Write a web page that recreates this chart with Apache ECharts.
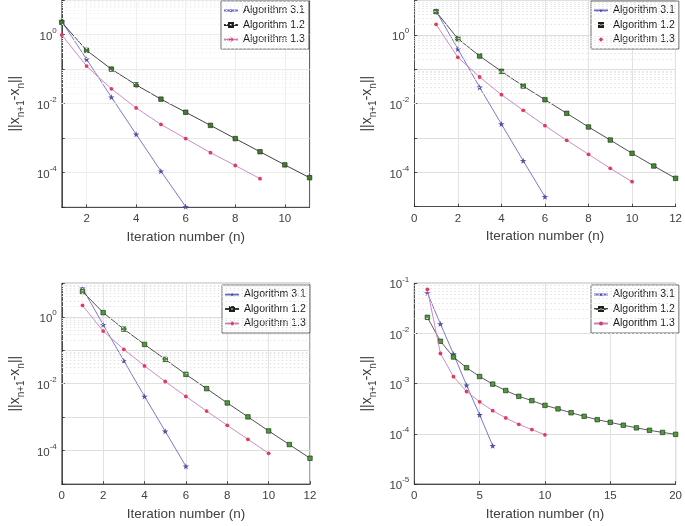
<!DOCTYPE html>
<html><head><meta charset="utf-8">
<script src="https://cdn.jsdelivr.net/npm/echarts@6/dist/echarts.min.js"></script>
<style>body{margin:0;background:#fff;width:685px;height:526px;overflow:hidden}.p{position:absolute}</style>
</head><body>
<div id="c1" class="p" style="left:0;top:0;width:345px;height:260px"></div>
<div id="c2" class="p" style="left:345px;top:0;width:340px;height:260px"></div>
<div id="c3" class="p" style="left:0;top:260px;width:345px;height:266px"></div>
<div id="c4" class="p" style="left:345px;top:260px;width:340px;height:266px"></div>
<script>
// ---- data ----
const seriesNames = ['Algorithm 3.1', 'Algorithm 1.2', 'Algorithm 1.3'];
const xLabel = 'Iteration number (n)';

const p1_alg31 = [2.4, 0.193, 0.01545, 1.3e-3, 1.11e-4, 1.04e-5];
const p1_alg12 = [2.25, 0.349, 0.1, 0.0349, 0.0135, 5.64e-3, 2.35e-3, 9.75e-4, 4.06e-4, 1.69e-4, 7.2e-5];
const p1_alg13 = [0.975, 0.122, 0.0268, 7.5e-3, 2.51e-3, 9.75e-4, 3.8e-4, 1.62e-4, 6.74e-5];

const p2_alg31 = [5.0, 0.392, 0.030, 2.56e-3, 2.18e-4, 1.95e-5];
const p2_alg12 = [4.78, 0.782, 0.245, 0.0878, 0.0327, 0.0131, 5.25e-3, 2.1e-3, 8.75e-4, 3.59e-4, 1.53e-4, 6.7e-5];
const p2_alg13 = [2.05, 0.225, 0.0599, 0.0183, 6.42e-3, 2.29e-3, 8.59e-4, 3.36e-4, 1.31e-4, 5.34e-5];

const p3_alg31 = [7.13, 0.581, 0.0486, 4.17e-3, 3.8e-4, 3.4e-5];
const p3_alg12 = [5.68, 1.33, 0.427, 0.149, 0.0533, 0.019, 7.13e-3, 2.66e-3, 1.02e-3, 3.88e-4, 1.52e-4, 5.93e-5];
const p3_alg13 = [2.18, 0.373, 0.106, 0.034, 0.01164, 4.17e-3, 1.52e-3, 5.69e-4, 2.18e-4, 8.3e-5];

const p4_alg31 = [0.064, 0.0155, 3.9e-3, 9.3e-4, 2.4e-4, 5.8e-5];
const p4_alg12 = [0.021, 7.0e-3, 3.4e-3, 2.08e-3, 1.39e-3, 9.8e-4, 7.3e-4, 5.6e-4, 4.6e-4, 3.7e-4, 3.15e-4, 2.64e-4, 2.24e-4, 1.92e-4, 1.7e-4, 1.49e-4, 1.32e-4, 1.18e-4, 1.07e-4, 9.8e-5];
const p4_alg13 = [0.076, 4.0e-3, 1.38e-3, 7.0e-4, 4.35e-4, 2.9e-4, 2.08e-4, 1.55e-4, 1.22e-4, 9.6e-5];

const xTicks1 = [2, 4, 6, 8, 10];
const xTicks2 = [0, 2, 4, 6, 8, 10, 12];
const xTicks4 = [0, 5, 10, 15, 20];
const yLabels123 = [1e-4, 1e-2, 1];
const yLabels4 = [1e-5, 1e-4, 1e-3, 1e-2, 1e-1];

// ---- styles ----
const FONT = '"Liberation Sans", Arial, Helvetica, sans-serif';
const AX = '#262626';
const TXT = '#404040';
const STAR = 'path://M50,0 L61,35 L98,35 L68,57 L79,91 L50,70 L21,91 L32,57 L2,35 L39,35 Z';

function decades(lo, hi) {
  const out = [];
  for (let k = Math.round(Math.log10(lo)); k <= Math.round(Math.log10(hi)); k++) out.push(Math.pow(10, k));
  return out;
}
function minors(lo, hi) {
  const out = [];
  for (let k = Math.round(Math.log10(lo)); k < Math.round(Math.log10(hi)); k++)
    for (let m = 2; m <= 9; m++) out.push({ yAxis: m * Math.pow(10, k) });
  return out;
}

function build(id, cfg) {
  const chart = echarts.init(document.getElementById(id));
  const styles = [
    { symbol: STAR, size: 6.5, line: '#6b6bc6', fill: '#5050a8', border: '#5050a8', bw: 0 },
    { symbol: 'rect', size: 4.5, line: cfg.blackLine, fill: cfg.green, border: '#1e1e1e', bw: 0.6 },
    { symbol: 'circle', size: 3.8, line: '#c77fc7', fill: '#e23a5c', border: '#e23a5c', bw: 0 }
  ];
  const data = [cfg.a31, cfg.a12, cfg.a13];
  const series = [{
    type: 'line', data: [], silent: true, animation: false,
    markLine: {
      silent: true, symbol: 'none', animation: false, label: { show: false },
      lineStyle: { type: [1.5, 2.5], color: cfg.minorColor, width: 1 },
      data: minors(cfg.ymin, cfg.ymax)
    }
  }];
  data.forEach((vals, i) => {
    const s = styles[i];
    series.push({
      type: 'line', name: seriesNames[i], animation: false, clip: false,
      data: vals.map((v, j) => [j + 1, v]),
      symbol: s.symbol, symbolSize: s.size, symbolKeepAspect: true, showSymbol: true,
      lineStyle: { color: s.line, width: 0.9 },
      itemStyle: { color: s.fill, borderColor: s.border, borderWidth: s.bw },
      z: 3 + i
    });
  });
  const legendData = seriesNames.map((n, i) => {
    const o = { name: n };
    if (cfg.markerOnlyLegend && i > 0) o.lineStyle = { opacity: 0, width: 0, color: 'rgba(0,0,0,0)' };
    return o;
  });
  chart.setOption({
    animation: false,
    grid: {
      left: cfg.grid[0], top: cfg.grid[1], width: cfg.grid[2], height: cfg.grid[3],
      show: cfg.box, borderColor: AX, borderWidth: 0.8, containLabel: false
    },
    legend: {
      data: legendData, orient: 'vertical', left: cfg.legend[0], top: cfg.legend[1],
      itemWidth: 14, itemHeight: 5, itemGap: 3.5, padding: [4, 4, 4, 2],
      borderColor: '#303030', borderWidth: 0.7, backgroundColor: '#fff', borderRadius: 0,
      selectedMode: false,
      textStyle: { fontFamily: FONT, fontSize: 10.5, color: '#1a1a1a', lineHeight: 11 }
    },
    xAxis: {
      type: 'value', min: cfg.xmin, max: cfg.xmax,
      axisLine: { show: true, onZero: false, lineStyle: { color: AX, width: 0.8 } },
      axisTick: { show: true, inside: true, length: 3, customValues: cfg.xticks, lineStyle: { color: AX, width: 0.8 } },
      axisLabel: { customValues: cfg.xticks, margin: 6, fontFamily: FONT, fontSize: 11.5, color: TXT },
      splitLine: { show: true, lineStyle: { color: cfg.vgrid, width: 1 } },
      name: xLabel, nameLocation: 'middle', nameGap: cfg.xNameGap,
      nameTextStyle: { fontFamily: FONT, fontSize: 13.5, color: TXT }
    },
    yAxis: {
      type: 'log', logBase: 10, min: cfg.ymin, max: cfg.ymax,
      axisLine: { show: true, onZero: false, lineStyle: { color: AX, width: 0.8 } },
      axisTick: { show: true, inside: true, length: 3, customValues: decades(cfg.ymin, cfg.ymax), lineStyle: { color: AX, width: 0.8 } },
      axisLabel: {
        customValues: cfg.ylabels, margin: 5,
        formatter: v => '{b|10}{s|' + Math.round(Math.log10(v)) + '}',
        rich: {
          b: { fontFamily: FONT, fontSize: 11.5, color: TXT, lineHeight: 16, verticalAlign: 'bottom' },
          s: { fontFamily: FONT, fontSize: 8, color: TXT, lineHeight: 8, verticalAlign: 'top' }
        }
      },
      splitLine: { show: true, lineStyle: { color: cfg.hgrid, width: 1 } },
      name: '{t|||x}{u|n+1}{t|-x}{u|n}{t|||}', nameLocation: 'middle', nameGap: cfg.yNameGap,
      nameTextStyle: {
        rich: {
          t: { fontFamily: FONT, fontSize: 14, color: TXT, lineHeight: 18, verticalAlign: 'top' },
          u: { fontFamily: FONT, fontSize: 10, color: TXT, lineHeight: 18, verticalAlign: 'bottom' }
        }
      }
    },
    series: series
  });
}

build('c1', {
  a31: p1_alg31, a12: p1_alg12, a13: p1_alg13,
  grid: [47, -2, 262.6, 209.3], box: true, legend: [221, 1],
  xmin: 1, xmax: 11, xticks: xTicks1, ymin: 1e-5, ymax: 10, ylabels: yLabels123,
  xNameGap: 22, yNameGap: 30, blackLine: '#2b2b2b', green: '#3d7f2a',
  vgrid: '#efefef', hgrid: '#ebebeb', minorColor: '#efefef'
});
build('c2', {
  a31: p2_alg31, a12: p2_alg12, a13: p2_alg13,
  grid: [69.3, 0.7, 264, 206], box: false, legend: [246, 1], markerOnlyLegend: true,
  xmin: 0, xmax: 12, xticks: xTicks2, ymin: 1e-5, ymax: 10, ylabels: yLabels123,
  xNameGap: 23, yNameGap: 30, blackLine: '#3a3a3a', green: '#3f8f2c',
  vgrid: '#e2e2e2', hgrid: '#dedede', minorColor: '#e2e2e2'
});
build('c3', {
  a31: p3_alg31, a12: p3_alg12, a13: p3_alg13,
  grid: [47.7, 23.3, 262.3, 206], box: true, legend: [222, 25],
  xmin: 0, xmax: 12, xticks: xTicks2, ymin: 1e-5, ymax: 10, ylabels: yLabels123,
  xNameGap: 22, yNameGap: 30, blackLine: '#3a3a3a', green: '#48a032',
  vgrid: '#e2e2e2', hgrid: '#dedede', minorColor: '#e2e2e2'
});
build('c4', {
  a31: p4_alg31, a12: p4_alg12, a13: p4_alg13,
  grid: [69.3, 23.3, 264, 206], box: true, legend: [246, 25],
  xmin: 0, xmax: 20, xticks: xTicks4, ymin: 1e-5, ymax: 0.1, ylabels: yLabels4,
  xNameGap: 22, yNameGap: 28, blackLine: '#4a4a4a', green: '#48a032',
  vgrid: '#e2e2e2', hgrid: '#dedede', minorColor: '#e2e2e2'
});
</script>
</body></html>
